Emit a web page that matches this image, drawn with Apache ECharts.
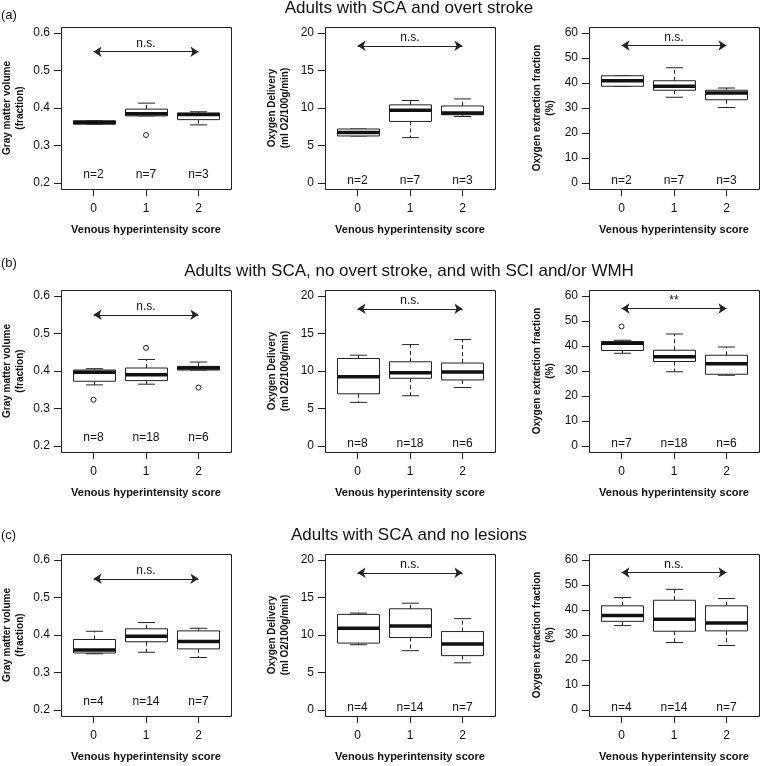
<!DOCTYPE html>
<html>
<head>
<meta charset="utf-8">
<script src="https://cdn.jsdelivr.net/npm/echarts@6/dist/echarts.min.js"></script>
<style>
  html, body { margin: 0; padding: 0; background: #fff; }
  #chart { width: 760px; height: 766px; }
</style>
</head>
<body>
<div id="chart"></div>
<script>
// box stats per score group: [lower whisker, Q1, median, Q3, upper whisker]
// (a) overt stroke
const gmvStroke = [
  [0.357, 0.357, 0.3615, 0.366, 0.366],
  [0.379, 0.379, 0.385, 0.397, 0.413],
  [0.355, 0.369, 0.383, 0.3865, 0.390]
];
const gmvStrokeOut = [[1, 0.328]];
const odStroke = [
  [6.27, 6.27, 6.75, 7.2, 7.2],
  [6.05, 8.21, 9.71, 10.42, 11.0],
  [8.87, 9.1, 9.32, 10.27, 11.21]
];
const oefStroke = [
  [38.7, 38.7, 40.9, 42.9, 42.9],
  [34.3, 37.1, 38.7, 40.9, 46.1],
  [30.2, 33.3, 36.0, 37.1, 38.0]
];
const nStroke = [2, 7, 3];

// (b) no overt stroke, with SCI and/or WMH
const gmvSilent = [
  [0.363, 0.3727, 0.397, 0.4026, 0.4062],
  [0.3648, 0.3744, 0.3903, 0.408, 0.4308],
  [0.4026, 0.4026, 0.408, 0.4123, 0.4238]
];
const gmvSilentOut = [[0, 0.3233], [1, 0.4617], [2, 0.356]];
const odSilent = [
  [5.82, 6.96, 9.25, 11.67, 12.11],
  [6.7, 9.03, 9.78, 11.23, 13.52],
  [7.8, 8.81, 9.87, 11.06, 14.19]
];
const oefSilent = [
  [37.1, 38.2, 41.1, 41.76, 42.3],
  [29.7, 33.8, 35.7, 38.3, 44.8],
  [28.3, 28.7, 32.9, 36.3, 39.6]
];
const oefSilentOut = [[0, 47.8]];
const nSilent = [8, 18, 6];
const nSilentOef = [7, 18, 6];

// (c) no lesions
const gmvNoLesion = [
  [0.350, 0.352, 0.360, 0.388, 0.410],
  [0.354, 0.382, 0.3965, 0.4166, 0.4332],
  [0.340, 0.363, 0.383, 0.411, 0.418]
];
const odNoLesion = [
  [8.7, 8.92, 10.9, 12.75, 12.92],
  [7.91, 9.67, 11.2, 13.5, 14.24],
  [6.29, 7.25, 8.79, 10.46, 12.18]
];
const oefNoLesion = [
  [33.76, 35.47, 37.85, 41.67, 44.97],
  [27.0, 31.5, 36.26, 43.9, 48.26],
  [25.8, 31.65, 34.8, 41.67, 44.57]
];
const nNoLesion = [4, 14, 7];

// ticks
const scoreTicks = [0, 1, 2];
const gmvTicks = [0.2, 0.3, 0.4, 0.5, 0.6];
const odTicks = [0, 5, 10, 15, 20];
const oefTicks = [0, 10, 20, 30, 40, 50, 60];

const FONT = "'Liberation Sans', Arial, Helvetica, sans-serif";
const INK = '#222';

// one entry per column (y measure); min/max are R's 4% padded range
const measures = [
  { name: 'Gray matter volume\n(fraction)', ticks: gmvTicks, min: 0.184, max: 0.616, arrowY: 0.55, nY: 0.222, gap: 35 },
  { name: 'Oxygen Delivery\n(ml O2/100g/min)', ticks: odTicks, min: -0.8, max: 20.8, arrowY: 18.3, nY: 0.25, gap: 34 },
  { name: 'Oxygen extraction fraction\n(%)', ticks: oefTicks, min: -2.4, max: 62.4, arrowY: 55, nY: 0.8, gap: 33 }
];

const rows = [
  { tag: '(a)', title: 'Adults with SCA and overt stroke',
    boxes: [gmvStroke, odStroke, oefStroke], outliers: [gmvStrokeOut, [], []],
    counts: [nStroke, nStroke, nStroke], sig: ['n.s.', 'n.s.', 'n.s.'] },
  { tag: '(b)', title: 'Adults with SCA, no overt stroke, and with SCI and/or WMH',
    boxes: [gmvSilent, odSilent, oefSilent], outliers: [gmvSilentOut, [], oefSilentOut],
    counts: [nSilent, nSilent, nSilentOef], sig: ['n.s.', 'n.s.', '**'] },
  { tag: '(c)', title: 'Adults with SCA and no lesions',
    boxes: [gmvNoLesion, odNoLesion, oefNoLesion], outliers: [[], [], []],
    counts: [nNoLesion, nNoLesion, nNoLesion], sig: ['n.s.', 'n.s.', 'n.s.'] }
];

const colLeft = [61, 325, 589];
const rowTop = [27, 290, 554];
const boxW = 170, boxH = 162;
const titleY = [8, 271.5, 535.5];
const tagY = [15, 263, 535];

function renderBox(params, api) {
  const x = api.value(0);
  const lo = api.coord([x, api.value(1)]);
  const q1 = api.coord([x, api.value(2)]);
  const md = api.coord([x, api.value(3)]);
  const q3 = api.coord([x, api.value(4)]);
  const hi = api.coord([x, api.value(5)]);
  const cx = Math.round(md[0]) + 0.5;
  const half = api.size([0.4, 0])[0];
  const cap = api.size([0.16, 0])[0];
  const line = (x1, y1, x2, y2, extra) => ({
    type: 'line',
    shape: { x1, y1, x2, y2 },
    style: Object.assign({ stroke: INK, lineWidth: 1 }, extra || {})
  });
  return {
    type: 'group',
    children: [
      line(cx, q3[1], cx, hi[1], { lineDash: [4, 3] }),
      line(cx, q1[1], cx, lo[1], { lineDash: [4, 3] }),
      line(cx - cap, hi[1], cx + cap, hi[1]),
      line(cx - cap, lo[1], cx + cap, lo[1]),
      {
        type: 'rect',
        shape: { x: cx - half, y: q3[1], width: half * 2, height: q1[1] - q3[1] },
        style: { fill: '#fff', stroke: INK, lineWidth: 1 }
      },
      line(cx - half, md[1], cx + half, md[1], { lineWidth: 3.5, stroke: '#111' })
    ]
  };
}

const grid = [], xAxis = [], yAxis = [], series = [], graphic = [];

rows.forEach((row, r) => {
  graphic.push({
    type: 'text', x: 409, y: titleY[r],
    style: { text: row.title, font: '17px ' + FONT, fill: '#111', align: 'center', verticalAlign: 'middle' }
  });
  graphic.push({
    type: 'text', x: 1, y: tagY[r],
    style: { text: row.tag, font: '13px ' + FONT, fill: '#111', align: 'left', verticalAlign: 'middle' }
  });

  measures.forEach((m, c) => {
    const idx = grid.length;
    grid.push({ left: colLeft[c], top: rowTop[r], width: boxW, height: boxH });
    // plot frame
    graphic.push({
      type: 'rect', silent: true, z: 100,
      shape: { x: colLeft[c] + 0.5, y: rowTop[r] + 0.5, width: boxW, height: boxH },
      style: { fill: 'none', stroke: INK, lineWidth: 1 }
    });
    xAxis.push({
      type: 'value', gridIndex: idx, min: -0.62, max: 2.62, position: 'bottom',
      name: 'Venous hyperintensity score', nameLocation: 'middle', nameGap: 35,
      nameTextStyle: { fontFamily: FONT, fontWeight: 'bold', fontSize: 11, color: '#111' },
      axisLine: { show: false, onZero: false },
      splitLine: { show: false },
      axisTick: { show: true, inside: false, length: 7, customValues: scoreTicks, lineStyle: { color: INK } },
      axisLabel: { show: true, margin: 14, customValues: scoreTicks, fontFamily: FONT, fontSize: 12, color: '#111' }
    });
    yAxis.push({
      type: 'value', gridIndex: idx, min: m.min, max: m.max, position: 'left',
      name: m.name, nameLocation: 'middle', nameGap: m.gap, nameRotate: 90,
      nameTextStyle: { fontFamily: FONT, fontWeight: 'bold', fontSize: 10, lineHeight: 12.5, color: '#111', align: 'center' },
      axisLine: { show: false, onZero: false },
      splitLine: { show: false },
      axisTick: { show: true, inside: false, length: 7, customValues: m.ticks, lineStyle: { color: INK } },
      axisLabel: { show: true, margin: 11, customValues: m.ticks, fontFamily: FONT, fontSize: 12, color: '#111' }
    });

    series.push({
      type: 'custom', xAxisIndex: idx, yAxisIndex: idx,
      renderItem: renderBox,
      encode: { x: 0, y: [1, 2, 3, 4, 5] },
      data: row.boxes[c].map((b, i) => [scoreTicks[i]].concat(b)),
      z: 2,
      markLine: {
        silent: true, animation: false,
        symbol: ['arrow', 'arrow'], symbolSize: 8,
        lineStyle: { color: INK, width: 1, type: 'solid', opacity: 1 },
        label: { show: true, position: 'middle', distance: 2, formatter: row.sig[c], fontFamily: FONT, fontSize: 12, color: '#111' },
        data: [[{ coord: [0, m.arrowY] }, { coord: [2, m.arrowY] }]]
      }
    });
    series.push({
      type: 'scatter', xAxisIndex: idx, yAxisIndex: idx,
      symbol: 'circle', symbolSize: 5, z: 3,
      itemStyle: { color: '#fff', borderColor: INK, borderWidth: 1, opacity: 1 },
      data: row.outliers[c]
    });
    series.push({
      type: 'scatter', xAxisIndex: idx, yAxisIndex: idx,
      symbol: 'circle', symbolSize: 1, z: 3,
      itemStyle: { color: 'rgba(0,0,0,0)', opacity: 1 },
      label: {
        show: true, position: 'inside', formatter: p => p.value[2],
        fontFamily: FONT, fontSize: 12, color: '#111', textBorderWidth: 0, opacity: 1
      },
      data: row.counts[c].map((n, i) => [scoreTicks[i], m.nY, 'n=' + n])
    });
  });
});

const myChart = echarts.init(document.getElementById('chart'), null, { renderer: 'canvas' });
myChart.setOption({
  animation: false,
  backgroundColor: '#fff',
  grid, xAxis, yAxis, series, graphic
});
</script>
</body>
</html>
